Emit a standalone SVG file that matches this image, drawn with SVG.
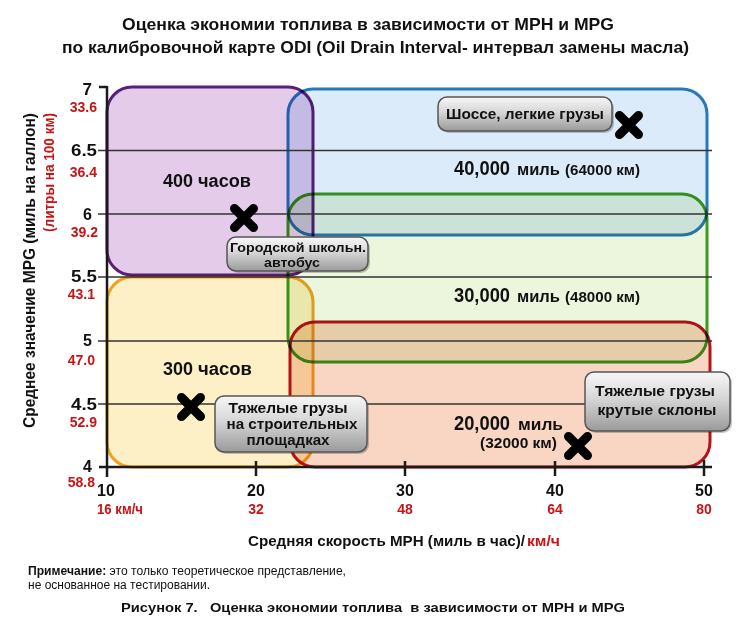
<svg xmlns="http://www.w3.org/2000/svg" width="756" height="643" viewBox="0 0 756 643">
<style>
.t{font-family:"Liberation Sans",Arial,sans-serif;fill:#111}
.b{font-weight:bold}
.red{fill:#c81414}
.zone{mix-blend-mode:multiply;stroke-width:3}
.grid{stroke:#333;stroke-width:1.6}
.axis{stroke:#1a1a1a;stroke-width:2.5;fill:none}
.call{fill:url(#cg);stroke:#555;stroke-width:1.5}
.sh{fill:#000;opacity:0.22}
</style>
<defs>
<linearGradient id="cg" x1="0" y1="0" x2="0" y2="1">
<stop offset="0" stop-color="#f7f7f7"/>
<stop offset="0.45" stop-color="#d6d6d6"/>
<stop offset="1" stop-color="#9a9a9a"/>
</linearGradient>
<g id="xm"><path d="M-9.5,-9.5 L9.5,9.5 M9.5,-9.5 L-9.5,9.5" stroke="#000" stroke-width="9" stroke-linecap="round" fill="none"/></g>
</defs>
<rect x="0" y="0" width="756" height="643" fill="#fff"/>

<g id="title">
<text class="t b" x="122" y="30" font-size="17" textLength="492" lengthAdjust="spacingAndGlyphs">Оценка экономии топлива в зависимости от MPH и MPG</text>
<text class="t b" x="62" y="53" font-size="17" textLength="627" lengthAdjust="spacingAndGlyphs">по калибровочной карте ODI (Oil Drain Interval- интервал замены масла)</text>
</g>

<g id="zones">
<rect id="zone-400h" class="zone" x="107" y="87" width="206" height="188" rx="25" fill="#e3cbe9" stroke="#5b1f78"/>
<rect id="zone-300h" class="zone" x="107" y="277" width="206" height="190" rx="25" fill="#fdf0c6" stroke="#f2a11f"/>
<rect id="zone-40000" class="zone" x="288" y="89" width="419" height="146" rx="25" fill="#dcebfa" stroke="#2878bd"/>
<rect id="zone-30000" class="zone" x="288" y="194" width="419" height="168" rx="25" fill="#ebf6dd" stroke="#3c9b1e"/>
<rect id="zone-20000" class="zone" x="290" y="322" width="420" height="145" rx="25" fill="#f9d5c3" stroke="#b5141b"/>
</g>

<g id="axes">
<line class="grid" x1="98" y1="150.5" x2="712" y2="150.5"/>
<line class="grid" x1="98" y1="214" x2="712" y2="214"/>
<line class="grid" x1="98" y1="277" x2="712" y2="277"/>
<line class="grid" x1="98" y1="341" x2="712" y2="341"/>
<line class="grid" x1="98" y1="404" x2="712" y2="404"/>
<line class="axis" x1="99" y1="87" x2="107" y2="87"/>
<line class="axis" x1="107" y1="86" x2="107" y2="477"/>
<line class="axis" x1="99" y1="467" x2="712" y2="467"/>
<line class="axis" x1="256" y1="461" x2="256" y2="476"/>
<line class="axis" x1="405" y1="461" x2="405" y2="476"/>
<line class="axis" x1="555" y1="461" x2="555" y2="476"/>
<line class="axis" x1="704" y1="460" x2="704" y2="476"/>
</g>

<g id="y-labels">
<text class="t b" x="92" y="95" font-size="17" text-anchor="end">7</text>
<text class="t b red" x="97" y="112" font-size="14" text-anchor="end">33.6</text>
<text class="t b" x="97" y="156" font-size="16" text-anchor="end" textLength="26" lengthAdjust="spacingAndGlyphs">6.5</text>
<text class="t b red" x="97" y="177" font-size="14" text-anchor="end">36.4</text>
<text class="t b" x="92" y="220" font-size="16" text-anchor="end">6</text>
<text class="t b red" x="98" y="237" font-size="14" text-anchor="end">39.2</text>
<text class="t b" x="97" y="282" font-size="16" text-anchor="end" textLength="26" lengthAdjust="spacingAndGlyphs">5.5</text>
<text class="t b red" x="95" y="299" font-size="14" text-anchor="end">43.1</text>
<text class="t b" x="92" y="346" font-size="16" text-anchor="end">5</text>
<text class="t b red" x="95" y="365" font-size="14" text-anchor="end">47.0</text>
<text class="t b" x="97" y="410" font-size="16" text-anchor="end" textLength="26" lengthAdjust="spacingAndGlyphs">4.5</text>
<text class="t b red" x="97" y="427" font-size="14" text-anchor="end">52.9</text>
<text class="t b" x="92" y="472" font-size="16" text-anchor="end">4</text>
<text class="t b red" x="95" y="487" font-size="14" text-anchor="end">58.8</text>
</g>

<g id="x-labels">
<text class="t b" x="106" y="496" font-size="16" text-anchor="middle">10</text>
<text class="t b" x="256" y="496" font-size="16" text-anchor="middle">20</text>
<text class="t b" x="405" y="496" font-size="16" text-anchor="middle">30</text>
<text class="t b" x="555" y="496" font-size="16" text-anchor="middle">40</text>
<text class="t b" x="704" y="496" font-size="16" text-anchor="middle">50</text>
<text class="t b red" x="120" y="514" font-size="14" text-anchor="middle" textLength="46" lengthAdjust="spacingAndGlyphs">16 км/ч</text>
<text class="t b red" x="256" y="514" font-size="14" text-anchor="middle">32</text>
<text class="t b red" x="405" y="514" font-size="14" text-anchor="middle">48</text>
<text class="t b red" x="555" y="514" font-size="14" text-anchor="middle">64</text>
<text class="t b red" x="704" y="514" font-size="14" text-anchor="middle">80</text>
</g>

<g id="y-title">
<text class="t b" transform="translate(35,428) rotate(-90)" font-size="16" textLength="315" lengthAdjust="spacingAndGlyphs">Среднее значение MPG (миль на галлон)</text>
<text class="t b red" transform="translate(54,232) rotate(-90)" font-size="14" textLength="119" lengthAdjust="spacingAndGlyphs">(литры на 100 км)</text>
</g>

<g id="x-title">
<text class="t b" x="248" y="546" font-size="15.2" textLength="277" lengthAdjust="spacingAndGlyphs">Средняя скорость MPH (миль в час)/</text>
<text class="t b red" x="527" y="546" font-size="15.2" textLength="33" lengthAdjust="spacingAndGlyphs">км/ч</text>
</g>

<g id="zone-labels">
<text class="t b" x="163" y="187" font-size="19" textLength="30" lengthAdjust="spacingAndGlyphs">400</text>
<text class="t b" x="198" y="187" font-size="18" textLength="53" lengthAdjust="spacingAndGlyphs">часов</text>
<text class="t b" x="163" y="375" font-size="19" textLength="30" lengthAdjust="spacingAndGlyphs">300</text>
<text class="t b" x="198" y="375" font-size="18" textLength="54" lengthAdjust="spacingAndGlyphs">часов</text>
<text class="t b" x="454" y="175" font-size="20" textLength="56" lengthAdjust="spacingAndGlyphs">40,000</text>
<text class="t b" x="517" y="175" font-size="17" textLength="43" lengthAdjust="spacingAndGlyphs">миль</text>
<text class="t b" x="565" y="175" font-size="15" textLength="75" lengthAdjust="spacingAndGlyphs">(64000 км)</text>
<text class="t b" x="454" y="302" font-size="20" textLength="56" lengthAdjust="spacingAndGlyphs">30,000</text>
<text class="t b" x="517" y="302" font-size="17" textLength="43" lengthAdjust="spacingAndGlyphs">миль</text>
<text class="t b" x="565" y="302" font-size="15" textLength="75" lengthAdjust="spacingAndGlyphs">(48000 км)</text>
<text class="t b" x="454" y="430" font-size="20" textLength="56" lengthAdjust="spacingAndGlyphs">20,000</text>
<text class="t b" x="518" y="430" font-size="17" textLength="45" lengthAdjust="spacingAndGlyphs">миль</text>
<text class="t b" x="480" y="448" font-size="15" textLength="77" lengthAdjust="spacingAndGlyphs">(32000 км)</text>
</g>

<g id="callout-highway">
<rect class="sh" x="440" y="99" width="174" height="34" rx="9"/>
<rect class="call" x="438" y="97" width="174" height="34" rx="9"/>
<text class="t b" x="525" y="119" font-size="15" text-anchor="middle" textLength="158" lengthAdjust="spacingAndGlyphs">Шоссе, легкие грузы</text>
</g>
<g id="callout-bus">
<rect class="sh" x="229" y="239" width="141" height="34" rx="9"/>
<rect class="call" x="227" y="237" width="141" height="34" rx="9"/>
<text class="t b" x="298" y="252" font-size="13" text-anchor="middle" textLength="136" lengthAdjust="spacingAndGlyphs">Городской школьн.</text>
<text class="t b" x="292" y="267" font-size="13" text-anchor="middle" textLength="56" lengthAdjust="spacingAndGlyphs">автобус</text>
</g>
<g id="callout-construction">
<rect class="sh" x="217" y="398" width="152" height="56" rx="9"/>
<rect class="call" x="215" y="396" width="152" height="56" rx="9"/>
<text class="t b" x="288" y="413" font-size="14.5" text-anchor="middle" textLength="119" lengthAdjust="spacingAndGlyphs">Тяжелые грузы</text>
<text class="t b" x="292" y="429" font-size="14.5" text-anchor="middle" textLength="131" lengthAdjust="spacingAndGlyphs">на строительных</text>
<text class="t b" x="288" y="445" font-size="14.5" text-anchor="middle" textLength="83" lengthAdjust="spacingAndGlyphs">площадках</text>
</g>
<g id="callout-slopes">
<rect class="sh" x="587" y="374" width="145" height="59" rx="9"/>
<rect class="call" x="585" y="372" width="145" height="59" rx="9"/>
<text class="t b" x="655" y="396" font-size="15.5" text-anchor="middle" textLength="120" lengthAdjust="spacingAndGlyphs">Тяжелые грузы</text>
<text class="t b" x="657" y="415" font-size="15.5" text-anchor="middle" textLength="119" lengthAdjust="spacingAndGlyphs">крутые склоны</text>
</g>

<g id="markers">
<use href="#xm" x="629" y="125"/>
<use href="#xm" x="244" y="218"/>
<use href="#xm" x="191" y="407"/>
<use href="#xm" x="578" y="446"/>
</g>

<g id="notes">
<text class="t" x="28" y="575" font-size="12" textLength="318" lengthAdjust="spacingAndGlyphs"><tspan font-weight="bold">Примечание:</tspan> это только теоретическое представление,</text>
<text class="t" x="28" y="589" font-size="12" textLength="182" lengthAdjust="spacingAndGlyphs">не основанное на тестировании.</text>
<text class="t b" x="121" y="612" font-size="13" textLength="504" lengthAdjust="spacingAndGlyphs" xml:space="preserve">Рисунок 7.   Оценка экономии топлива  в зависимости от MPH и MPG</text>
</g>
</svg>
